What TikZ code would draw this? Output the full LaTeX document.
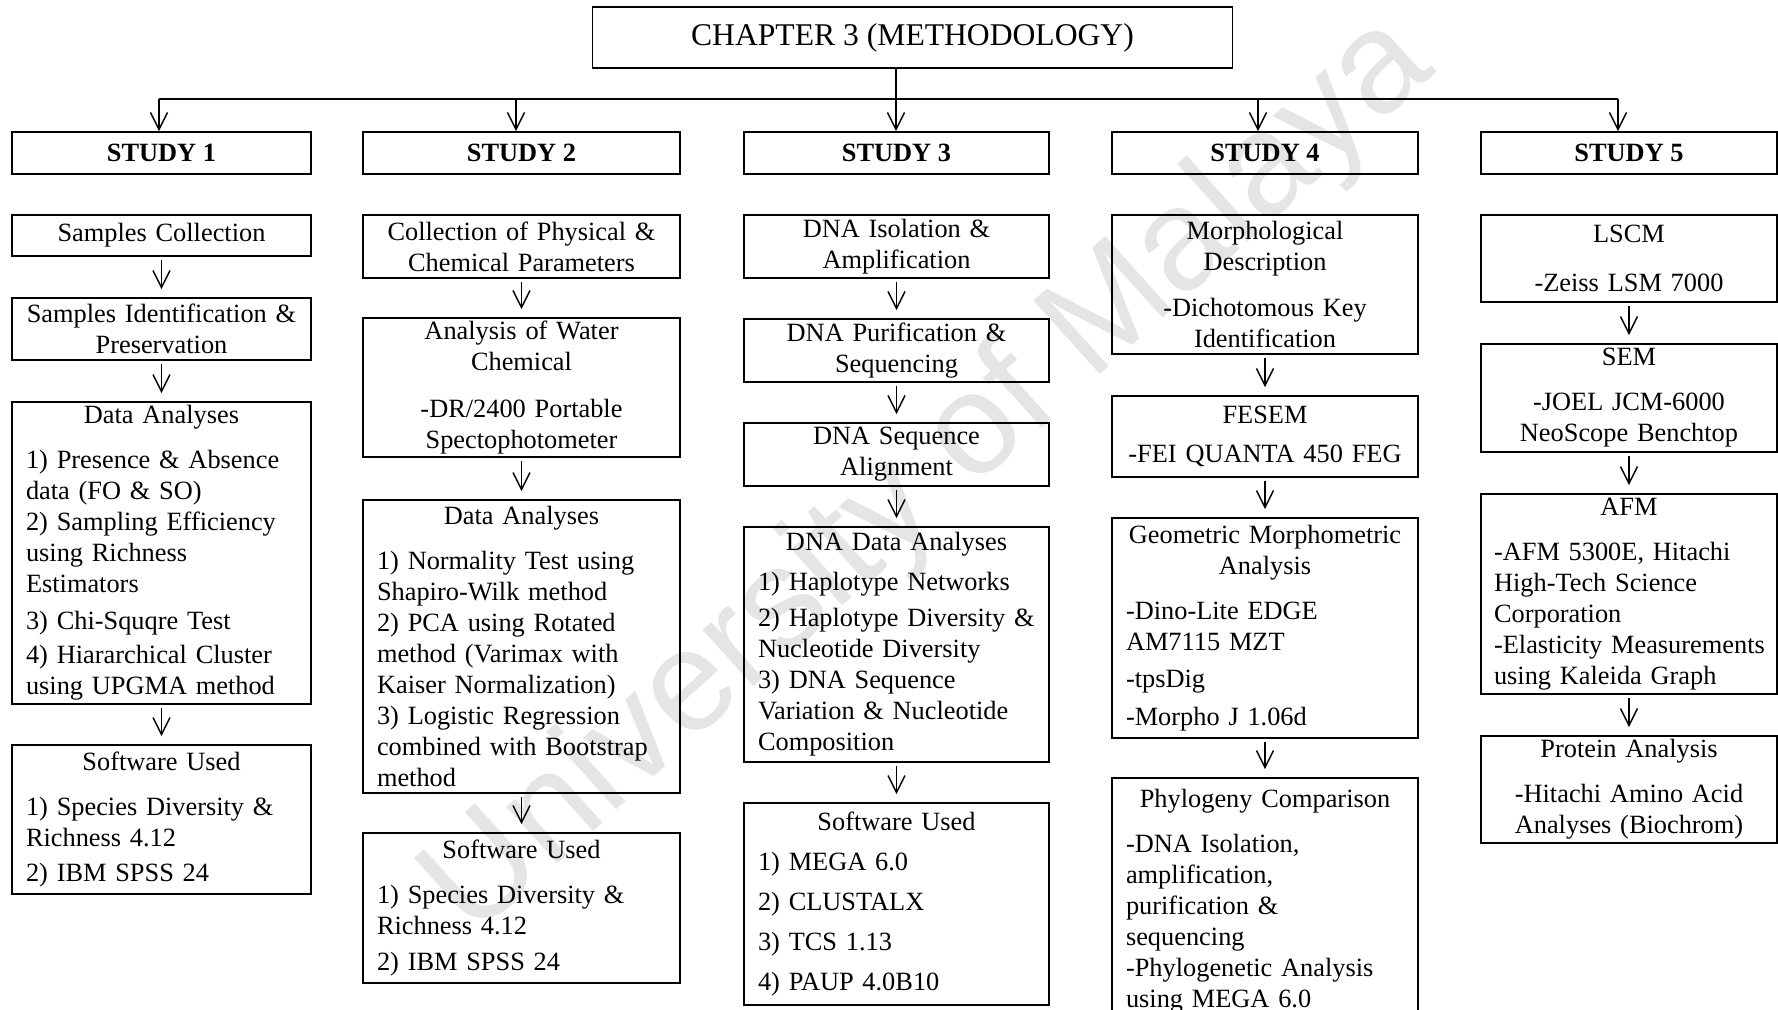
\documentclass[tikz,border=0pt]{standalone}
\usepackage{fontspec}
\setmainfont{Liberation Serif}
\newfontfamily\wmfont{Liberation Sans}
\usetikzlibrary{arrows.meta}

\newcommand{\boxtitle}[1]{\makebox[\linewidth]{#1}}

\begin{document}
\begin{tikzpicture}[
  x=0.02cm, y=-0.02cm,
  every node/.style={inner sep=0pt},
  box/.style={draw, line width=1.1pt, inner xsep=0.28cm, inner ysep=0pt,
    font=\fontsize{15}{17.65}\selectfont},
  colA/.style={box, text width=5.42cm},
  colB/.style={box, text width=5.78cm},
  colC/.style={box, text width=5.54cm},
  colD/.style={box, text width=5.56cm},
  colE/.style={box, inner xsep=0.26cm, text width=5.40cm},
  head/.style={draw, line width=1.1pt, minimum height=0.84cm,
    font=\fontsize{15}{18}\selectfont\bfseries},
  arr/.style={line width=0.8pt, -{Straight Barb[length=0.34cm, width=0.34cm]}},
  link/.style={arr, shorten <=0.06cm, shorten >=0.16cm}
]

% Page: 1778 x 1009 units, y runs downwards
\useasboundingbox (0,0) rectangle (1778,1009);

% Column centres
\def\xA{161.5}
\def\xB{521.5}
\def\xC{896.5}
\def\xD{1265}
\def\xE{1629}

% Watermark
\node[rotate=42, text=black!10, font=\wmfont\fontsize{82}{90}\selectfont]
  (wm) at (930, 478) {University of Malaya};

% ============================================================
% CHAPTER BOX AND STUDY HEADERS
% ============================================================
\node[draw, line width=0.6pt, minimum width=12.82cm, minimum height=1.22cm,
  font=\fontsize{18}{22}\selectfont] (chap) at (912.5, 37.5) {CHAPTER 3 (METHODOLOGY)};

\node[head, minimum width=5.98cm] (s1) at (\xA, 153) {STUDY 1};
\node[head, minimum width=6.34cm] (s2) at (\xB, 153) {STUDY 2};
\node[head, minimum width=6.10cm] (s3) at (\xC, 153) {STUDY 3};
\node[head, minimum width=6.12cm] (s4) at (\xD, 153) {STUDY 4};
\node[head, minimum width=5.92cm] (s5) at (\xE, 153) {STUDY 5};

% bus line under the chapter box
\coordinate (bus1) at (159, 99);
\coordinate (bus2) at (516, 99);
\coordinate (bus3) at (896, 99);
\coordinate (bus4) at (1258, 99);
\coordinate (bus5) at (1618, 99);

\draw[line width=1.1pt] (bus1) -- (bus5);
\draw[line width=0.8pt] (chap.south -| bus3) -- (bus3);
\foreach \k in {1,...,5}{
  \draw[arr] (bus\k) -- (bus\k |- s\k.north);
}

% ============================================================
% STUDY 1
% ============================================================
\node[colA, align=center, minimum height=0.82cm] (a1) at (\xA, 235.5) {Samples Collection};
\node[colA, align=center, minimum height=1.24cm] (a2) at (\xA, 329)
  {Samples Identification \&\\ Preservation};
\node[colA, align=left, minimum height=6.04cm] (a3) at (\xA, 553)
  {\boxtitle{Data Analyses}\\[8pt]
   1) Presence \& Absence\\ data (FO \& SO)\\ 2) Sampling Efficiency\\
   using Richness\\ Estimators\\[3pt] 3) Chi-Squqre Test\\[2pt]
   4) Hiararchical Cluster\\ using UPGMA method};
\node[colA, align=left, minimum height=2.98cm] (a4) at (\xA, 819.5)
  {\boxtitle{Software Used}\\[8pt]
   1) Species Diversity \&\\ Richness 4.12\\[2pt] 2) IBM SPSS 24};

% ============================================================
% STUDY 2
% ============================================================
\node[colB, align=center, minimum height=1.26cm] (b1) at (\xB, 246.5)
  {Collection of Physical \&\\ Chemical Parameters};
\node[colB, align=center, minimum height=2.78cm] (b2) at (\xB, 387.5)
  {Analysis of Water\\ Chemical\\[9pt] -DR/2400 Portable\\ Spectophotometer};
\node[colB, align=left, minimum height=5.86cm] (b3) at (\xB, 646.5)
  {\boxtitle{Data Analyses}\\[8pt]
   1) Normality Test using\\ Shapiro-Wilk method\\ 2) PCA using Rotated\\
   method (Varimax with\\ Kaiser Normalization)\\ 3) Logistic Regression\\
   combined with Bootstrap\\ method};
\node[colB, align=left, minimum height=3.00cm] (b4) at (\xB, 908)
  {\boxtitle{Software Used}\\[8pt]
   1) Species Diversity \&\\ Richness 4.12\\[3pt] 2) IBM SPSS 24};

% ============================================================
% STUDY 3
% ============================================================
\node[colC, align=center, minimum height=1.26cm] (c1) at (\xC, 246.5)
  {DNA Isolation \&\\ Amplification};
\node[colC, align=center, minimum height=1.26cm] (c2) at (\xC, 350.5)
  {DNA Purification \&\\ Sequencing};
\node[colC, align=center, minimum height=1.26cm] (c3) at (\xC, 454.5)
  {DNA Sequence\\ Alignment};
\node[colC, align=left, minimum height=4.70cm] (c4) at (\xC, 644.5)
  {\boxtitle{DNA Data Analyses}\\[5pt]
   1) Haplotype Networks\\[3pt] 2) Haplotype Diversity \&\\
   Nucleotide Diversity\\ 3) DNA Sequence\\ Variation \& Nucleotide\\ Composition};
\node[colC, align=left, minimum height=4.04cm] (c5) at (\xC, 904)
  {\boxtitle{Software Used}\\[5pt]
   1) MEGA 6.0\\[5pt] 2) CLUSTALX\\[5pt] 3) TCS 1.13\\[5pt] 4) PAUP 4.0B10};

% ============================================================
% STUDY 4
% ============================================================
\node[colD, align=center, minimum height=2.78cm] (d1) at (\xD, 284.5)
  {Morphological\\ Description\\[8pt] -Dichotomous Key\\ Identification};
\node[colD, align=center, minimum height=1.62cm] (d2) at (\xD, 436.5)
  {FESEM\\[5pt] -FEI QUANTA 450 FEG};
\node[colD, align=left, minimum height=4.40cm] (d3) at (\xD, 628)
  {\boxtitle{Geometric Morphometric}\\ \boxtitle{Analysis}\\[8pt]
   -Dino-Lite EDGE\\ AM7115 MZT\\[3pt] -tpsDig\\[4pt] -Morpho J 1.06d};
% runs off the bottom of the page
\node[colD, align=left, minimum height=4.94cm] (d4) at (\xD, 901.5)
  {\boxtitle{Phylogeny Comparison}\\[8pt]
   -DNA Isolation,\\ amplification,\\ purification \&\\ sequencing\\
   -Phylogenetic Analysis\\ using MEGA 6.0};

% ============================================================
% STUDY 5
% ============================================================
\node[colE, align=center, minimum height=1.74cm] (e1) at (\xE, 258.5)
  {LSCM\\[10pt] -Zeiss LSM 7000};
\node[colE, align=center, minimum height=2.16cm] (e2) at (\xE, 398)
  {SEM\\[8pt] -JOEL JCM-6000\\ NeoScope Benchtop};
\node[colE, align=left, minimum height=4.00cm] (e3) at (\xE, 594)
  {\boxtitle{AFM}\\[8pt]
   -AFM 5300E, Hitachi\\ High-Tech Science\\ Corporation\\
   \mbox{-Elasticity Measurements}\\ using Kaleida Graph};
\node[colE, align=center, minimum height=2.14cm] (e4) at (\xE, 789.5)
  {Protein Analysis\\[8pt] -Hitachi Amino Acid\\ Analyses (Biochrom)};

% Arrows down each column
\foreach \p/\q in {a1/a2, a2/a3, a3/a4, b1/b2, b2/b3, b3/b4,
                   c1/c2, c2/c3, c3/c4, c4/c5, d1/d2, d2/d3, d3/d4,
                   e1/e2, e2/e3, e3/e4}{
  \draw[link] (\p) -- (\q);
}

\end{tikzpicture}
\end{document}
